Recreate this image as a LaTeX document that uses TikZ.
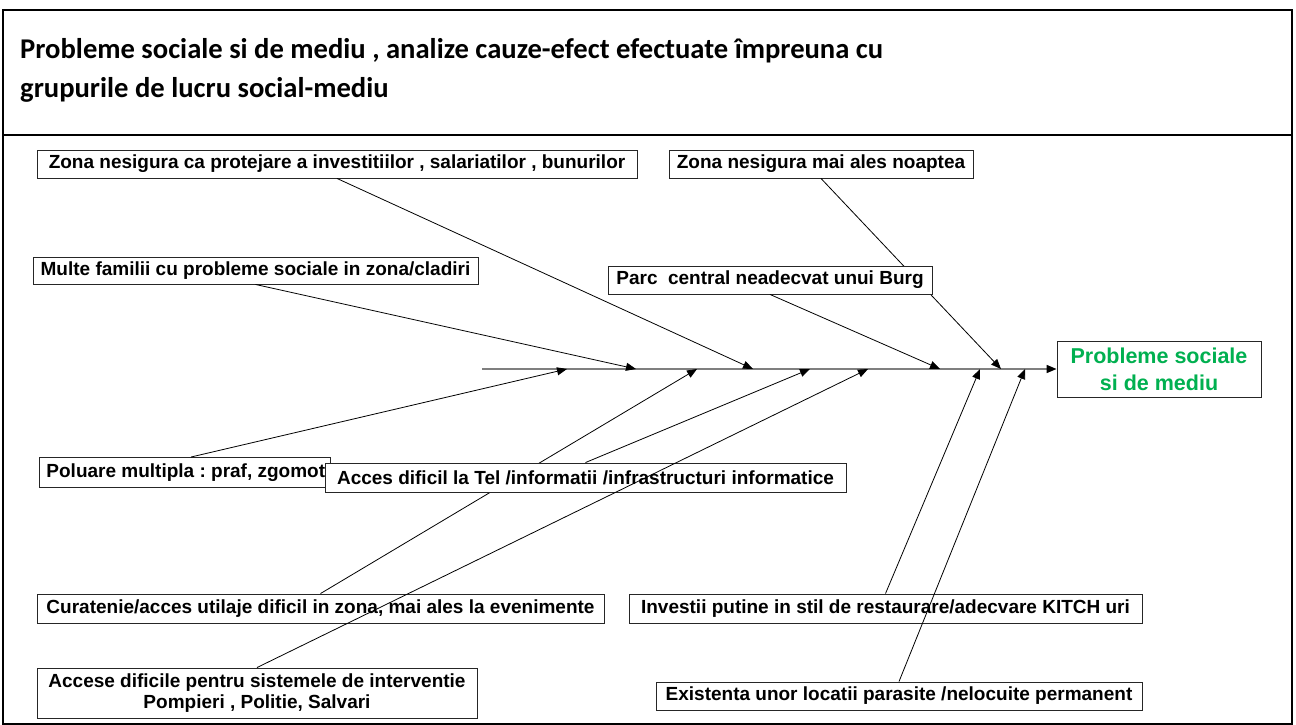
\documentclass[tikz,border=0pt]{standalone}
\usepackage{fontspec}
\setmainfont{Liberation Sans}
\newfontfamily\titlefont{Carlito}
\usetikzlibrary{arrows.meta,calc}
\definecolor{effgreen}{HTML}{00B050}
\definecolor{spinegray}{HTML}{7F7F7F}
\frenchspacing
\tikzset{
  cbox/.style={draw=black!85, fill=white, line width=0.9pt, inner sep=0pt,
    font=\bfseries\fontsize{19}{21}\selectfont},
  conn/.style={draw=black, line width=0.8pt, -{Triangle[length=10pt,width=8pt]}},
  frameline/.style={line width=2.5pt, draw=black},
  ttl/.style={anchor=base west, inner sep=0pt, font=\titlefont\bfseries\fontsize{28.6}{34}\selectfont}
}
\begin{document}
\begin{tikzpicture}[x=1pt,y=-1pt]
\useasboundingbox (0,0) rectangle (1296,725);
% frame
\draw[frameline] (3,10) rectangle (1292,724);
\draw[frameline] (3,135) -- (1292,135);
% title
\node[ttl] (T1) at (20,59) {Probleme sociale si de mediu , analize cauze-efect efectuate împreuna cu};
\node[ttl] (T2) at (20,97) {grupurile de lucru social-mediu};
% spine coordinates
\coordinate (sL) at (482,369);
\coordinate (pF) at (567,369);
\coordinate (pC) at (636,369);
\coordinate (pH) at (697,369);
\coordinate (pA) at (753,369);
\coordinate (pG) at (810,369);
\coordinate (pJ) at (868,369);
\coordinate (pD) at (940,369);
\coordinate (pI) at (980,369);
\coordinate (pB) at (1001,369);
\coordinate (pK) at (1025,369);
% effect box
\node[cbox, minimum width=204, minimum height=56, text=effgreen, align=center,
  font=\bfseries\fontsize{21.5}{27}\selectfont] (E) at (1159,369) {Probleme sociale\\si de mediu};
% spine
\draw[draw=spinegray, line width=1.6pt, -{Triangle[length=10pt,width=8pt,fill=black,color=black]}] (sL) -- (E.west);
% upper cause boxes
\node[cbox, minimum width=600, minimum height=28] (A) at (337,164) {Zona nesigura ca protejare a investitiilor , salariatilor , bunurilor};
\node[cbox, minimum width=304, minimum height=28] (B) at (821,164) {Zona nesigura mai ales noaptea};
\node[cbox, minimum width=445, minimum height=27] (C) at (255.5,270.5) {Multe familii cu probleme sociale in zona/cladiri};
\draw[conn] (A.south) -- (pA);
\draw[conn] (B.south) -- (pB);
\draw[conn] (C.south) -- (pC);
\node[cbox, minimum width=324, minimum height=28] (D) at (770,280) {Parc\ \ central neadecvat unui Burg};
\draw[conn] (D.south) -- (pD);
% lower boxes
\node[cbox, anchor=north west, inner xsep=7pt, minimum height=30] (F) at (39,457) {\makebox[277pt][l]{Poluare multipla : praf, zgomot}};
\draw[conn] ($(F.north west)!0.521!(F.north east)$) -- (pF);
\node[cbox, minimum width=567, minimum height=29] (H) at (320.5,608.5) {Curatenie/acces utilaje dificil in zona, mai ales la evenimente};
\node[cbox, minimum width=513, minimum height=29] (I) at (885.5,608.5) {Investii putine in stil de restaurare/adecvare KITCH uri};
\draw[conn] (H.north) -- (pH);
\draw[conn] (I.north) -- (pI);
\node[cbox, minimum width=521, minimum height=29] (G) at (585.5,477.5) {Acces dificil la Tel /informatii /infrastructuri informatice};
\draw[conn] (G.north) -- (pG);
\node[cbox, minimum width=440, minimum height=50, align=center] (J) at (257,693) {Accese dificile pentru sistemele de interventie\\Pompieri , Politie, Salvari};
\node[cbox, minimum width=486, minimum height=28] (K) at (899,696) {Existenta unor locatii parasite /nelocuite permanent};
% lines over boxes
\draw[conn] (J.north) -- (pJ);
\draw[conn] (K.north) -- (pK);
\end{tikzpicture}
\end{document}
